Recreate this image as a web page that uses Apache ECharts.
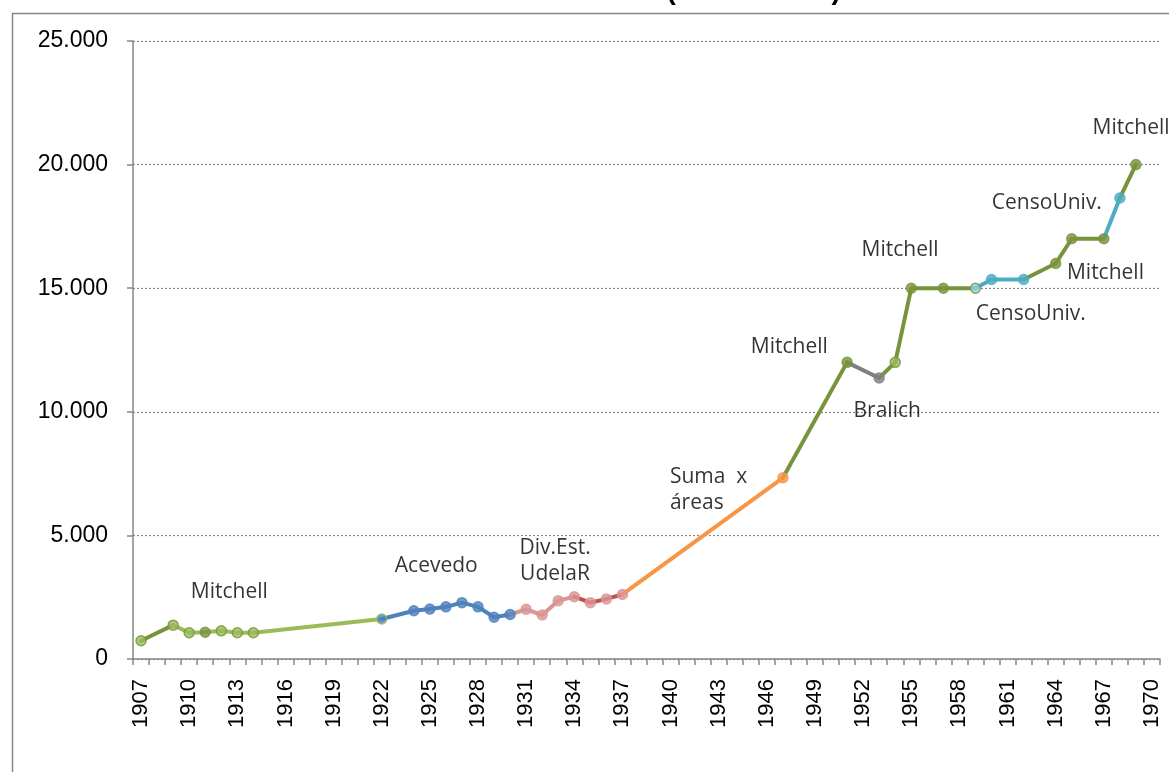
<!DOCTYPE html>
<html>
<head>
<meta charset="utf-8">
<script src="https://cdn.jsdelivr.net/npm/echarts@6/dist/echarts.min.js"></script>
<style>
html,body{margin:0;padding:0;background:#fff;overflow:hidden;}
#chart{width:1169px;height:772px;}
</style>
</head>
<body>
<div id="chart"></div>
<script>
// ---- Data ----
const years = ['1907','1908','1909','1910','1911','1912','1913','1914','1915','1916','1917','1918','1919','1920','1921','1922','1923','1924','1925','1926','1927','1928','1929','1930','1931','1932','1933','1934','1935','1936','1937','1938','1939','1940','1941','1942','1943','1944','1945','1946','1947','1948','1949','1950','1951','1952','1953','1954','1955','1956','1957','1958','1959','1960','1961','1962','1963','1964','1965','1966','1967','1968','1969','1970'];
const yTicks = [0, 5000, 10000, 15000, 20000, 25000];

const mitchellA = [[1907, 740], [1909, 1370]];
const mitchellB = [[1909, 1370], [1910, 1060], [1911, 1080], [1912, 1140], [1913, 1060], [1914, 1060], [1922, 1620]];
const acevedo   = [[1922, 1620], [1924, 1950], [1925, 2020], [1926, 2110], [1927, 2280], [1928, 2110], [1929, 1690], [1930, 1800]];
const udelarA   = [[1930, 1800], [1931, 2010], [1932, 1780], [1933, 2360], [1934, 2520]];
const udelarB   = [[1934, 2520], [1935, 2280], [1936, 2430], [1937, 2610]];
const suma      = [[1937, 2610], [1947, 7330]];
const mitchellC = [[1947, 7330], [1951, 12000]];
const bralich   = [[1951, 12000], [1953, 11370]];
const mitchellD = [[1953, 11370], [1954, 12000], [1955, 15000], [1957, 15000], [1959, 15000]];
const censoA    = [[1959, 15000], [1960, 15350], [1962, 15350]];
const mitchellE = [[1962, 15350], [1964, 16000], [1965, 17000], [1967, 17000]];
const censoB    = [[1967, 17000], [1968, 18650]];
const mitchellF = [[1968, 18650], [1969, 20000]];

// annotation texts: [x (year), y (value), text]
const annotations = [
  [1912.5, 2700, 'Mitchell'],
  [1925.4, 3760, 'Acevedo'],
  [1932.8, 3960, 'Div.Est.\nUdelaR'],
  [1947.4, 12610, 'Mitchell'],
  [1953.5, 10020, 'Bralich'],
  [1954.3, 16530, 'Mitchell'],
  [1963.45, 18430, 'CensoUniv.'],
  [1967.1, 15600, 'Mitchell'],
  [1962.45, 13945, 'CensoUniv.'],
  [1968.7, 21500, 'Mitchell']
];
const annotationLeft = [[1939.96, 6830, 'Suma  x\náreas']];

// ---- Styles ----
const OLIVE = '#77933C', LGREEN = '#9BBB59', BLUE = '#4F81BD', PINK = '#D99694',
      RED = '#C0504D', ORANGE = '#F79646', GRAY = '#7F7F7F', CYAN = '#4BACC6', LCYAN = '#93CDDD';

const segments = [
  {pts: mitchellA, line: OLIVE,  fill: LGREEN, border: OLIVE},
  {pts: mitchellB, line: LGREEN, fill: LGREEN, border: OLIVE},
  {pts: acevedo,   line: BLUE,   fill: BLUE,   border: BLUE},
  {pts: udelarA,   line: PINK,   fill: PINK,   border: PINK},
  {pts: udelarB,   line: RED,    fill: PINK,   border: PINK},
  {pts: suma,      line: ORANGE, fill: ORANGE, border: ORANGE},
  {pts: mitchellC, line: OLIVE,  fill: OLIVE,  border: OLIVE},
  {pts: bralich,   line: GRAY,   fill: GRAY,   border: GRAY},
  {pts: mitchellD, line: OLIVE,  fill: OLIVE,  border: OLIVE},
  {pts: censoA,    line: CYAN,   fill: CYAN,   border: CYAN},
  {pts: mitchellE, line: OLIVE,  fill: OLIVE,  border: OLIVE},
  {pts: censoB,    line: CYAN,   fill: CYAN,   border: CYAN},
  {pts: mitchellF, line: OLIVE,  fill: OLIVE,  border: OLIVE}
];
const markerOverride = {
  1911: {fill: OLIVE, border: OLIVE},
  1922: {fill: BLUE, border: LGREEN},
  1954: {fill: LGREEN, border: OLIVE},
  1959: {fill: LCYAN, border: OLIVE}
};

const lineSeries = segments.map(s => ({
  type: 'line',
  xAxisIndex: 0, yAxisIndex: 0,
  symbol: 'none',
  z: 2,
  lineStyle: {color: s.line, width: 4, cap: 'round', join: 'round'},
  data: s.pts.map(p => [String(p[0]), p[1]]),
  animation: false,
  silent: true
}));

const seen = {};
const markerData = [];
segments.forEach(s => {
  s.pts.forEach(p => {
    if (seen[p[0]]) return;
    seen[p[0]] = true;
    const o = markerOverride[p[0]] || {};
    markerData.push({
      value: [String(p[0]), p[1]],
      itemStyle: {color: o.fill || s.fill, borderColor: o.border || s.border, borderWidth: 1.5}
    });
  });
});

const fmt = v => String(v).replace(/\B(?=(\d{3})+(?!\d))/g, '.');

const labelStyle = {show: true, position: 'inside', formatter: p => p.data[2],
  color: '#000000', textBorderWidth: 0, fontFamily: 'Open Sans', fontSize: 21, lineHeight: 26};

const chart = echarts.init(document.getElementById('chart'));
chart.setOption({
  backgroundColor: '#ffffff',
  animation: false,
  graphic: [
    {type: 'rect', left: 10, top: 11, z: 0, silent: true,
     shape: {width: 1300, height: 900},
     style: {fill: 'none', stroke: '#868686', lineWidth: 1.5}},
    {type: 'text', x: 2, y: -22.5, z: 1, silent: true,
     style: {text: 'Gráfico 1. Matrícula de la enseñanza universitaria (1907 a 1970)',
             font: 'bold 28px "Liberation Sans"', fill: '#000'}}
  ],
  grid: {left: 133, right: 9, top: 41, bottom: 113, containLabel: false},
  xAxis: [{
    type: 'category',
    data: years,
    boundaryGap: true,
    axisLine: {show: true, lineStyle: {color: '#868686', width: 1.5}},
    axisTick: {show: true, interval: 0, length: 6, lineStyle: {color: '#868686', width: 1.5}},
    axisLabel: {interval: 2, rotate: 90, margin: 20, color: '#000',
                fontFamily: 'Liberation Sans', fontSize: 22},
    splitLine: {show: false}
  }, {
    type: 'value', min: 1906.5, max: 1970.5, show: false
  }],
  yAxis: {
    type: 'value', min: yTicks[0], max: yTicks[yTicks.length - 1], interval: 5000,
    axisLine: {show: true, lineStyle: {color: '#868686', width: 1.5}},
    axisTick: {show: true, length: 6, lineStyle: {color: '#868686', width: 1.5}},
    axisLabel: {margin: 25, color: '#000', fontFamily: 'Liberation Sans', fontSize: 23, formatter: fmt},
    splitLine: {show: true, lineStyle: {type: [2, 2], color: '#868686', width: 1.2}}
  },
  series: lineSeries.concat([
    {
      type: 'scatter', xAxisIndex: 0, yAxisIndex: 0, z: 5,
      symbol: 'circle', symbolSize: 10,
      data: markerData, silent: true
    },
    {
      type: 'scatter', xAxisIndex: 1, yAxisIndex: 0, z: 6,
      symbolSize: 1, itemStyle: {color: 'rgba(0,0,0,0)'},
      data: annotations, silent: true,
      label: Object.assign({}, labelStyle, {align: 'center'})
    },
    {
      type: 'scatter', xAxisIndex: 1, yAxisIndex: 0, z: 6,
      symbolSize: 1, itemStyle: {color: 'rgba(0,0,0,0)'},
      data: annotationLeft, silent: true,
      label: Object.assign({}, labelStyle, {align: 'left'})
    }
  ])
});
</script>
</body>
</html>
